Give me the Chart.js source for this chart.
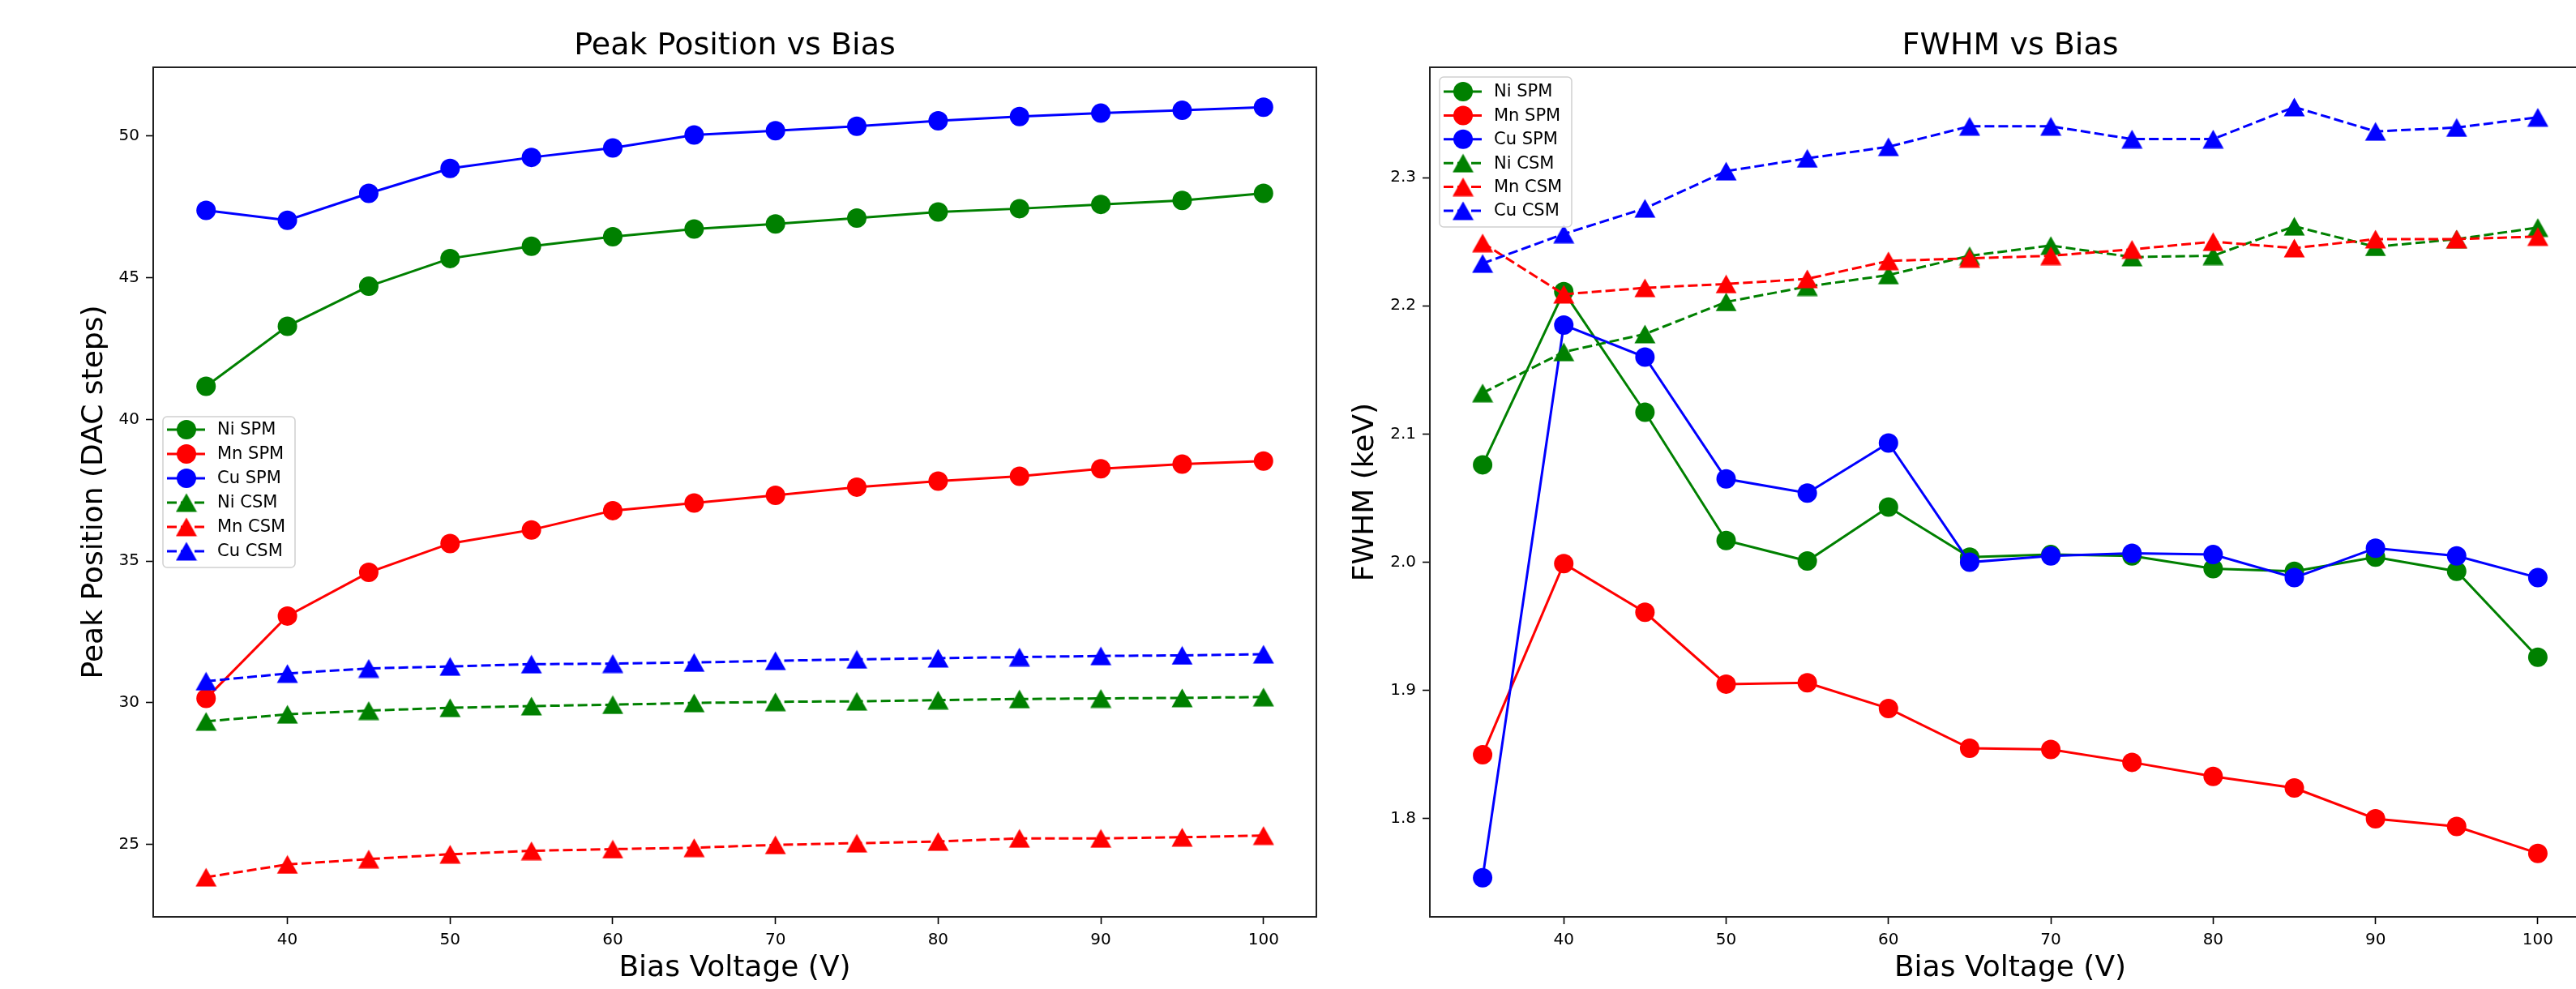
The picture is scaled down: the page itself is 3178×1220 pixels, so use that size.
<!DOCTYPE html>
<html><head><meta charset="utf-8">
<script src="https://cdn.jsdelivr.net/npm/chart.js@4.4.1/dist/chart.umd.min.js"></script>
<style>
html,body{margin:0;padding:0;width:3178px;height:1220px;overflow:hidden;background:#fff;}
#wrap{position:relative;width:3178px;height:1220px;overflow:hidden;background:#fff;}
.box{position:absolute;top:0;height:1220px;}
canvas{display:block;}
</style></head><body>
<div id="wrap">
<div class="box" style="left:0;width:1640px"><canvas id="c1" width="1640" height="1220"></canvas></div>
<div class="box" style="left:1640px;width:1572px"><canvas id="c2" width="1572" height="1220"></canvas></div>
</div>
<script>
// ---------- data ----------
const biasVoltage = [35,40,45,50,55,60,65,70,75,80,85,90,95,100];
const seriesNames = ['Ni SPM','Mn SPM','Cu SPM','Ni CSM','Mn CSM','Cu CSM'];

const peakNiSPM = [41.17,43.29,44.70,45.68,46.11,46.45,46.72,46.90,47.11,47.32,47.44,47.59,47.73,47.98];
const peakMnSPM = [30.15,33.06,34.60,35.62,36.10,36.78,37.05,37.32,37.61,37.82,37.99,38.26,38.42,38.53];
const peakCuSPM = [47.38,47.03,47.98,48.86,49.25,49.58,50.04,50.19,50.35,50.54,50.69,50.81,50.91,51.02];
const peakNiCSM = [29.34,29.59,29.72,29.82,29.88,29.93,29.99,30.03,30.05,30.09,30.13,30.15,30.17,30.20];
const peakMnCSM = [23.84,24.29,24.48,24.65,24.77,24.83,24.88,24.98,25.04,25.10,25.21,25.21,25.25,25.31];
const peakCuCSM = [30.76,31.03,31.21,31.28,31.36,31.38,31.42,31.48,31.53,31.57,31.61,31.65,31.67,31.71];

const fwhmNiSPM = [2.076,2.211,2.117,2.017,2.001,2.043,2.004,2.006,2.005,1.995,1.993,2.004,1.993,1.926];
const fwhmMnSPM = [1.850,1.999,1.961,1.905,1.906,1.886,1.855,1.854,1.844,1.833,1.824,1.800,1.794,1.773];
const fwhmCuSPM = [1.754,2.185,2.160,2.065,2.054,2.093,2.000,2.005,2.007,2.006,1.988,2.011,2.005,1.988];
const fwhmNiCSM = [2.132,2.164,2.178,2.203,2.215,2.224,2.239,2.247,2.238,2.239,2.262,2.246,2.252,2.261];
const fwhmMnCSM = [2.249,2.209,2.214,2.217,2.221,2.235,2.237,2.239,2.244,2.250,2.245,2.252,2.252,2.254];
const fwhmCuCSM = [2.233,2.256,2.276,2.305,2.315,2.324,2.340,2.340,2.330,2.330,2.355,2.336,2.339,2.347];

const xTickValues = [40,50,60,70,80,90,100];
const peakTickValues = [25,30,35,40,45,50];
const fwhmTickValues = [1.8,1.9,2.0,2.1,2.2,2.3];

// ---------- styling ----------
const FONT = "'DejaVu Sans', 'Liberation Sans', sans-serif";
const seriesColors = ['#008000','#ff0000','#0000ff','#008000','#ff0000','#0000ff'];
const seriesDashed = [false,false,false,true,true,true];

function triangleImage(color){
  const w = 27, h = 24;
  const c = document.createElement('canvas');
  c.width = w; c.height = h;
  const g = c.getContext('2d');
  g.fillStyle = color;
  g.beginPath();
  g.moveTo(w/2, 0.5);
  g.lineTo(w-0.5, h-0.5);
  g.lineTo(0.5, h-0.5);
  g.closePath();
  g.fill();
  return c;
}
const triImgs = {};
seriesColors.forEach(c => { if(!triImgs[c]) triImgs[c] = triangleImage(c); });

function makeDatasets(arrays){
  return arrays.map((arr, i) => ({
    label: seriesNames[i],
    data: biasVoltage.map((x, j) => ({x: x, y: arr[j]})),
    borderColor: seriesColors[i],
    backgroundColor: seriesColors[i],
    pointBackgroundColor: seriesColors[i],
    borderWidth: 3,
    borderDash: seriesDashed[i] ? [12,5] : [],
    pointStyle: seriesDashed[i] ? triImgs[seriesColors[i]] : 'circle',
    pointRadius: 12,
    pointBorderWidth: 0,
    pointHoverRadius: 12,
    tension: 0,
    order: arrays.length - i,
    clip: false
  }));
}

const framePlugin = {
  id: 'frame',
  afterDatasetsDraw(chart){
    const a = chart.chartArea, ctx = chart.ctx;
    ctx.save();
    ctx.strokeStyle = '#222';
    ctx.lineWidth = 2;
    ctx.setLineDash([]);
    ctx.strokeRect(a.left, a.top, a.right - a.left, a.bottom - a.top);
    ctx.restore();
  }
};

const boxLegend = {
  id: 'boxLegend',
  afterDraw(chart, args, o){
    const ctx = chart.ctx;
    ctx.save();
    const r = 5;
    ctx.beginPath();
    ctx.moveTo(o.x + r, o.y);
    ctx.arcTo(o.x + o.w, o.y, o.x + o.w, o.y + o.h, r);
    ctx.arcTo(o.x + o.w, o.y + o.h, o.x, o.y + o.h, r);
    ctx.arcTo(o.x, o.y + o.h, o.x, o.y, r);
    ctx.arcTo(o.x, o.y, o.x + o.w, o.y, r);
    ctx.closePath();
    ctx.fillStyle = 'rgba(255,255,255,0.8)';
    ctx.fill();
    ctx.strokeStyle = '#d0d0d0';
    ctx.lineWidth = 1.5;
    ctx.stroke();
    chart.data.datasets.forEach((ds, i) => {
      const cy = o.y + o.first + i * o.rowH;
      ctx.strokeStyle = ds.borderColor;
      ctx.lineWidth = ds.borderWidth;
      ctx.setLineDash(ds.borderDash);
      ctx.beginPath();
      ctx.moveTo(o.x + 5, cy);
      ctx.lineTo(o.x + 52, cy);
      ctx.stroke();
      ctx.setLineDash([]);
      const mx = o.x + 29;
      if (typeof ds.pointStyle === 'string') {
        ctx.fillStyle = ds.pointBackgroundColor;
        ctx.beginPath();
        ctx.arc(mx, cy, ds.pointRadius, 0, Math.PI * 2);
        ctx.fill();
      } else {
        const im = ds.pointStyle;
        ctx.drawImage(im, mx - im.width/2, cy - im.height/2);
      }
      ctx.fillStyle = '#000';
      ctx.font = "21px " + FONT;
      ctx.textBaseline = 'middle';
      ctx.textAlign = 'left';
      ctx.fillText(ds.label, o.x + 67, cy + 1);
    });
    ctx.restore();
  }
};

function makeChart(id, cfg){
  return new Chart(document.getElementById(id), {
    type: 'line',
    data: { datasets: makeDatasets(cfg.arrays) },
    plugins: [framePlugin, boxLegend],
    options: {
      responsive: false,
      animation: false,
      devicePixelRatio: 1,
      layout: { padding: { left: 0, right: cfg.padRight, top: 0, bottom: 0 } },
      plugins: {
        legend: { display: false },
        tooltip: { enabled: false },
        title: {
          display: true, text: cfg.title, color: '#000', fullSize: false,
          font: { family: FONT, size: 38, weight: 'normal' },
          padding: { top: 34, bottom: 3.4 }
        },
        boxLegend: cfg.legend
      },
      scales: {
        x: {
          type: 'linear',
          min: 31.75, max: 103.25,
          afterBuildTicks: s => { s.ticks = xTickValues.map(v => ({value: v})); },
          afterFit: s => { s.height = 89; },
          grid: { drawOnChartArea: false, drawTicks: true, tickLength: 9, tickColor: '#000', tickWidth: 1.6 },
          border: { display: false },
          ticks: { color: '#000', font: { family: FONT, size: 20 }, padding: 8, maxRotation: 0, autoSkip: false },
          title: { display: true, text: 'Bias Voltage (V)', color: '#000', font: { family: FONT, size: 36, weight: 'normal' }, padding: { top: 0, bottom: 4 } }
        },
        y: {
          type: 'linear',
          min: cfg.yMin, max: cfg.yMax,
          afterBuildTicks: s => { s.ticks = cfg.yTicks.map(v => ({value: v})); },
          afterFit: s => { s.width = cfg.yWidth; },
          grid: { drawOnChartArea: false, drawTicks: true, tickLength: 9, tickColor: '#000', tickWidth: 1.6 },
          border: { display: false },
          ticks: { color: '#000', font: { family: FONT, size: 20 }, padding: 8, autoSkip: false, callback: cfg.fmt },
          title: { display: true, text: cfg.yTitle, color: '#000', font: { family: FONT, size: 36, weight: 'normal' }, padding: { top: cfg.yTitlePad, bottom: 0 } }
        }
      }
    }
  });
}

makeChart('c1', {
  arrays: [peakNiSPM, peakMnSPM, peakCuSPM, peakNiCSM, peakMnCSM, peakCuCSM],
  title: 'Peak Position vs Bias',
  yTitle: 'Peak Position (DAC steps)',
  yMin: 22.44, yMax: 52.43, yTicks: peakTickValues,
  fmt: v => String(v),
  yWidth: 189, yTitlePad: 95, padRight: 16,
  legend: { x: 201, y: 514, w: 163, h: 186, first: 16, rowH: 30 }
});

makeChart('c2', {
  arrays: [fwhmNiSPM, fwhmMnSPM, fwhmCuSPM, fwhmNiCSM, fwhmMnCSM, fwhmCuCSM],
  title: 'FWHM vs Bias',
  yTitle: 'FWHM (keV)',
  yMin: 1.7235, yMax: 2.386, yTicks: fwhmTickValues,
  fmt: v => Number(v).toFixed(1),
  yWidth: 124, yTitlePad: 23, padRight: 16,
  legend: { x: 136, y: 95, w: 163, h: 185, first: 18, rowH: 29.4 }
});
</script>
</body></html>
